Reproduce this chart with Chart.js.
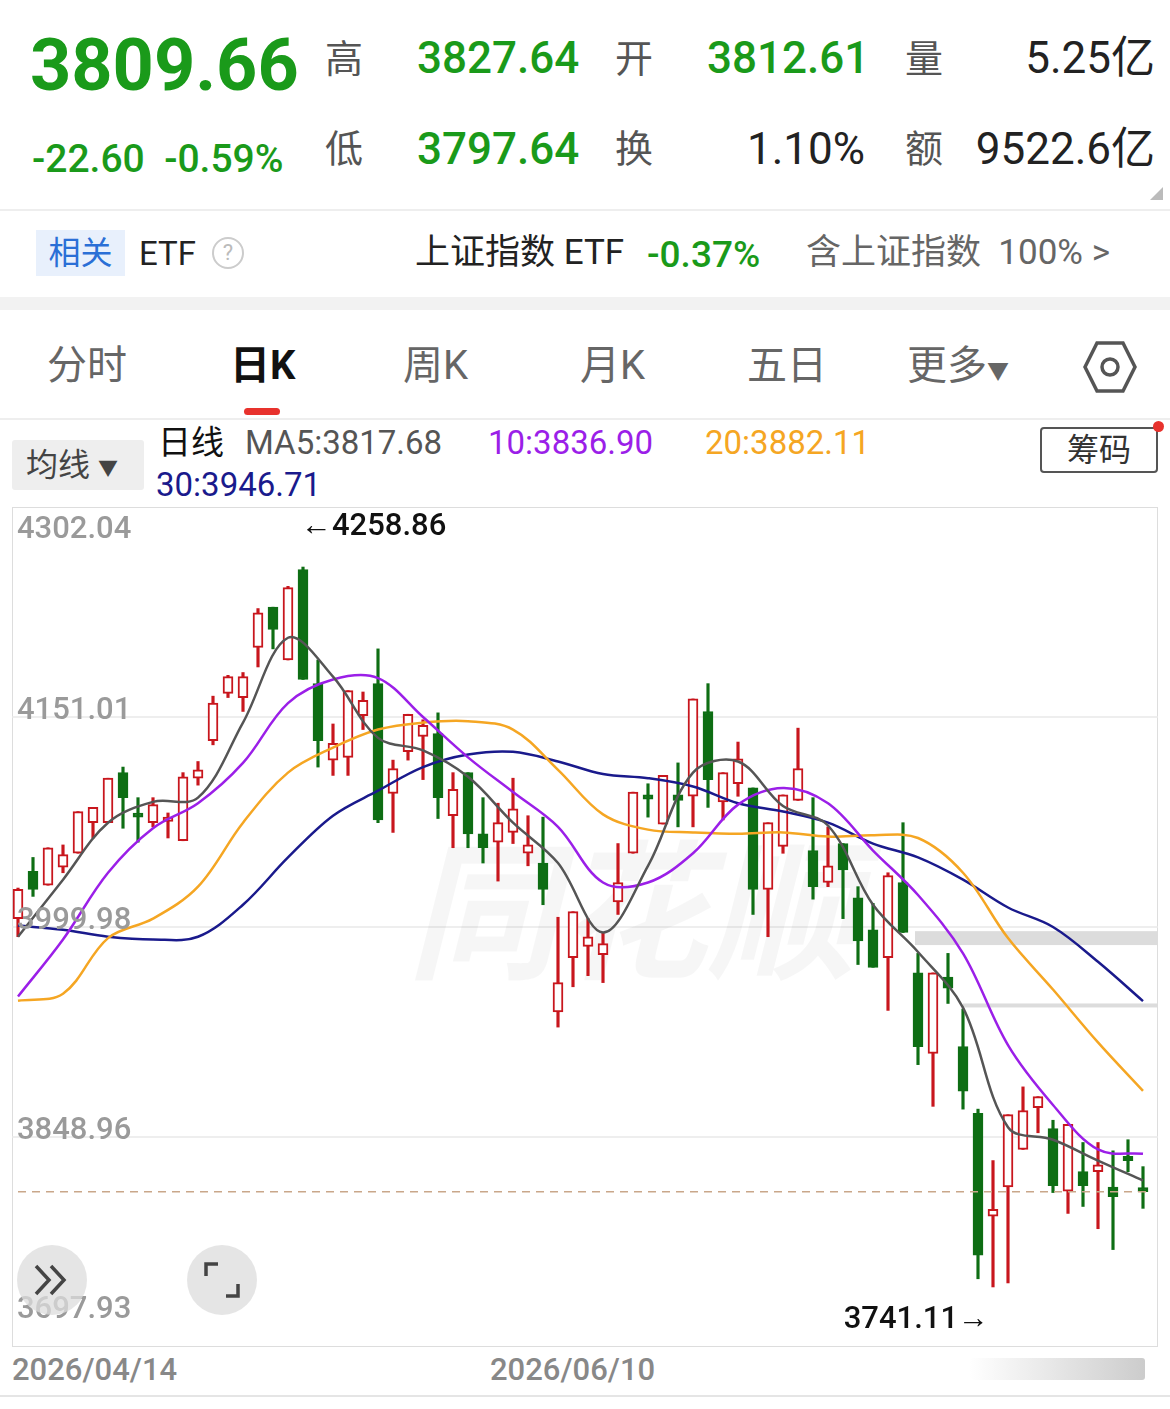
<!DOCTYPE html>
<html><head><meta charset="utf-8">
<script src="https://cdn.jsdelivr.net/npm/chart.js@4/dist/chart.umd.min.js"></script>
<style>
body{margin:0;width:1170px;height:1409px;background:#fff;font-family:Roboto,"Noto Sans CJK SC",sans-serif;position:relative;overflow:hidden}
.t{position:absolute;white-space:nowrap;line-height:1}
.g{color:#1a9a1a;font-weight:500}
.k{color:#222}
.cn{color:#555;font-size:38px}
#box{position:absolute;left:12px;top:507px;width:1146px;height:840px;border:1px solid #ddd;box-sizing:border-box}
#wrap{position:absolute;left:12px;top:507px;width:1146px;height:840px}
</style></head><body>
<div class="t g" style="left:30px;top:30px;font-size:72px;font-weight:700">3809.66</div>
<div class="t g" style="left:32px;top:140px;font-size:39px">-22.60&nbsp;&nbsp;-0.59%</div>
<div class="t cn" style="left:325px;top:40px">高</div>
<div class="t g" style="left:417px;top:36px;font-size:44px">3827.64</div>
<div class="t cn" style="left:615px;top:40px">开</div>
<div class="t g" style="left:707px;top:36px;font-size:44px">3812.61</div>
<div class="t cn" style="left:905px;top:40px">量</div>
<div class="t k" style="right:15px;top:36px;font-size:44px">5.25亿</div>
<div class="t cn" style="left:325px;top:130px">低</div>
<div class="t g" style="left:417px;top:127px;font-size:44px">3797.64</div>
<div class="t cn" style="left:615px;top:130px">换</div>
<div class="t k" style="right:305px;top:127px;font-size:44px">1.10%</div>
<div class="t cn" style="left:905px;top:130px">额</div>
<div class="t k" style="right:15px;top:127px;font-size:44px">9522.6亿</div>
<div style="position:absolute;left:1150px;top:187px;width:0;height:0;border-left:13px solid transparent;border-bottom:13px solid #bbb"></div>
<div style="position:absolute;left:0;top:209px;width:1170px;height:2px;background:#eee"></div>
<div class="t" style="left:36px;top:230px;width:89px;height:46px;background:#e8f0fc;color:#2a6fd6;font-size:32px;line-height:46px;text-align:center">相关</div>
<div class="t k" style="left:139px;top:237px;font-size:33px">ETF</div>
<div class="t" style="left:212px;top:237px;width:28px;height:28px;border:2px solid #ccc;border-radius:50%;color:#bbb;font-size:22px;text-align:center;line-height:28px">?</div>
<div class="t k" style="left:415px;top:235px;font-size:35px">上证指数 ETF</div>
<div class="t g" style="left:647px;top:236px;font-size:37px">-0.37%</div>
<div class="t" style="left:806px;top:235px;font-size:35px;color:#666">含上证指数&nbsp; 100% &gt;</div>
<div style="position:absolute;left:0;top:297px;width:1170px;height:13px;background:#f2f2f2"></div>
<div class="t" style="left:47px;top:346px;font-size:40px;color:#666">分时</div>
<div class="t" style="left:230px;top:346px;font-size:40px;color:#111;font-weight:700">日K</div>
<div style="position:absolute;left:244px;top:408px;width:36px;height:7px;border-radius:4px;background:#e8322d"></div>
<div class="t" style="left:403px;top:346px;font-size:40px;color:#666">周K</div>
<div class="t" style="left:580px;top:346px;font-size:40px;color:#666">月K</div>
<div class="t" style="left:747px;top:346px;font-size:40px;color:#666">五日</div>
<div class="t" style="left:907px;top:346px;font-size:40px;color:#666">更多<span style="font-size:22px">▼</span></div>
<svg style="position:absolute;left:1083px;top:340px" width="54" height="54"><polygon points="14,3 40,3 52,27 40,51 14,51 2,27" fill="none" stroke="#555" stroke-width="3.5"/><circle cx="27" cy="27" r="8" fill="none" stroke="#555" stroke-width="3.5"/></svg>
<div style="position:absolute;left:0;top:418px;width:1170px;height:2px;background:#eee"></div>
<div class="t" style="left:12px;top:440px;width:132px;height:50px;background:#eee;border-radius:3px;color:#444;font-size:32px;line-height:50px;padding-left:14px;box-sizing:border-box">均线 <span style="font-size:20px">▼</span></div>
<div class="t" style="left:158px;top:426px;font-size:33px;color:#111">日线</div>
<div class="t" style="left:245px;top:426px;font-size:33px;color:#555">MA5:3817.68</div>
<div class="t" style="left:488px;top:426px;font-size:33px;color:#9b1fe8">10:3836.90</div>
<div class="t" style="left:705px;top:426px;font-size:33px;color:#f5a623">20:3882.11</div>
<div class="t" style="left:156px;top:468px;font-size:33px;color:#1a1a8c">30:3946.71</div>
<div class="t" style="left:1040px;top:427px;width:118px;height:46px;border:2px solid #555;border-radius:4px;box-sizing:border-box;color:#333;font-size:32px;line-height:42px;text-align:center">筹码</div>
<div style="position:absolute;left:1153px;top:421px;width:11px;height:11px;border-radius:50%;background:#e8322d"></div>
<div id="box"></div>
<div id="wrap"><canvas id="c"></canvas></div>
<div style="position:absolute;left:17px;top:1245px;width:70px;height:70px;border-radius:50%;background:rgba(220,220,220,.75)"></div>
<svg style="position:absolute;left:32px;top:1262px" width="40" height="36"><path d="M4 4 L17 18 L4 32 M19 4 L32 18 L19 32" fill="none" stroke="#444" stroke-width="3.5"/></svg>
<div style="position:absolute;left:187px;top:1245px;width:70px;height:70px;border-radius:50%;background:rgba(220,220,220,.75)"></div>
<svg style="position:absolute;left:202px;top:1260px" width="40" height="40"><path d="M4 16 V4 H16 M36 24 V36 H24" fill="none" stroke="#444" stroke-width="3.5"/></svg>
<div class="t" style="left:12px;top:1354px;font-size:31px;color:#888;font-weight:500">2026/04/14</div>
<div class="t" style="left:490px;top:1354px;font-size:31px;color:#888;font-weight:500">2026/06/10</div>
<div style="position:absolute;left:970px;top:1358px;width:175px;height:22px;background:linear-gradient(to right,#fff,#ccc);border-radius:3px"></div>
<div style="position:absolute;left:0;top:1395px;width:1170px;height:2px;background:#e5e5e5"></div>
<script>
// candle data (price units)
const opens  = [4006,4040,4030,4043,4053,4075,4075,4111,4082,4075,4076,4062,4107,4134,4168,4165,4201,4230,4192,4257,
  4175,4120,4122,4152,4175,4096,4126,4137,4139,4080,4111,4067,4061,4068,4053,4046,3939,3978,3986,3980,
  4018,4053,4095,4074,4095,4094,4155,4090,4103,4100,4027,4058,4091,4055,4032,4060,4021,3998,3978,4032,
  3967,3909,3964,3914,3866,3792,3813,3840,3870,3855,3810,3824,3824,3813,3835,3812.61];
const highs  = [4028,4050,4057,4059,4083,4086,4107,4115,4093,4093,4082,4111,4119,4166,4181,4183,4229,4230,4245,4258.86,
  4192,4146,4170,4169,4200,4120,4153,4149,4154,4111,4111,4093,4089,4107,4080,4079,4007,4011,4006,3996,
  4060,4097,4103,4109,4118,4164,4175,4111,4133,4100,4075,4095,4143,4093,4072,4060,4029,4017,4039,4075,
  3981,3967,3981,3941,3869,3832,3865,3885,3878,3861,3858,3845,3845,3839,3847,3827.64];
const lows   = [3993,4022,4030,4039,4053,4064,4075,4071,4061,4072,4064,4062,4102,4131,4165,4155,4187,4200,4192,4178,
  4115,4109,4109,4142,4075,4068,4120,4106,4078,4057,4057,4046,4033,4060,4044,4016,3928,3957,3965,3960,
  4009,4053,4079,4074,4072,4072,4086,4077,4094,4009,3993,4053,4091,4020,4029,4006,3973,3971,3940,3996,
  3901,3871,3945,3869,3747,3741.11,3744,3840,3852,3809,3794,3799,3783,3768,3824,3797.64];
const closes = [4027,4027,4057,4052,4083,4086,4107,4093,4079,4088,4079,4108,4113,4161,4180,4180,4226,4214,4244,4178,
  4134,4132,4170,4163,4077,4114,4153,4145,4093,4099,4067,4057,4075,4085,4059,4027,3960,4011,3993,3988,
  4032,4097,4092,4109,4091,4164,4106,4111,4121,4027,4075,4095,4114,4029,4044,4041,3990,3971,4037,3996,
  3914,3967,3956,3882,3764,3797,3865,3868,3878,3814,3858,3814,3829,3806,3832,3809.66];
// moving averages sampled every 3rd candle (index 0,3,...,75)
const maIdx = [0,3,6,9,12,15,18,21,24,27,30,33,36,39,42,45,48,51,54,57,60,63,66,69,72,75];
const ma5Pts  = [3993,4034,4075,4090,4093,4147,4208,4180,4136,4127,4108,4075,4046,3996,4044,4111,4119,4087,4073,4016,3982,3942,3856,3847,3832,3817.68];
const ma10Pts = [3950,3991,4039,4071,4089,4118,4161,4178,4179,4151,4122,4097,4072,4032,4032,4053,4088,4100,4089,4055,4023,3981,3915,3872,3840,3836.90];
const ma20Pts = [3947,3952,3992,4006,4029,4075,4111,4129,4142,4147,4148,4142,4113,4081,4070,4068,4067,4068,4065,4066,4064,4039,3992,3955,3917,3882.11];
const ma30Pts = [4001,3998,3993,3991,3993,4016,4050,4080,4098,4115,4124,4126,4119,4110,4107,4101,4089,4083,4075,4060,4050,4034,4014,4000,3975,3946.71];
const tickVals = [3697.93,3848.96,3999.98,4151.01,4302.04];
const lastPrice = 3809.66;

const RED = '#c8161d', GREEN = '#0e6e14';
const labels = closes.map((_, i) => i);
const up = closes.map((c, i) => c >= opens[i]);
function spread(pts) {
  const a = Array(closes.length).fill(null);
  maIdx.forEach((k, j) => a[k] = pts[j]);
  return a;
}
function maSet(pts, color) {
  return {type: 'line', data: spread(pts), borderColor: color, borderWidth: 2.5, pointRadius: 0,
    spanGaps: true, tension: 0.35, order: 0};
}

const deco = {
  id: 'deco',
  beforeDatasetsDraw(chart) {
    const {ctx, width, scales: {x, y}} = chart;
    ctx.save();
    // grid lines across the whole box
    ctx.strokeStyle = '#e8e8e8'; ctx.lineWidth = 1.5;
    tickVals.slice(1, 4).forEach(v => {
      const p = y.getPixelForValue(v);
      ctx.beginPath(); ctx.moveTo(0, p); ctx.lineTo(width, p); ctx.stroke();
    });
    // watermark
    ctx.fillStyle = 'rgba(0,0,0,0.035)';
    ctx.font = 'italic bold 150px "Noto Sans CJK SC"';
    ctx.fillText('同花顺', 395, 460);
    // chip bands
    ctx.fillStyle = '#dcdcdc';
    ctx.fillRect(x.getPixelForValue(60) - 3, y.getPixelForValue(3997), width, y.getPixelForValue(3987) - y.getPixelForValue(3997));
    ctx.fillRect(x.getPixelForValue(63), y.getPixelForValue(3945), width, 4);
    ctx.restore();
  },
  afterDatasetsDraw(chart) {
    const {ctx, scales: {x, y}} = chart;
    ctx.save();
    // last price dashed line
    ctx.strokeStyle = '#c9a78a'; ctx.lineWidth = 1.5; ctx.setLineDash([8, 6]);
    const py = y.getPixelForValue(lastPrice);
    ctx.beginPath(); ctx.moveTo(6, py); ctx.lineTo(x.getPixelForValue(75) + 6, py); ctx.stroke();
    ctx.setLineDash([]);
    // y labels
    ctx.fillStyle = '#9a9a9a'; ctx.font = '500 31px Roboto';
    tickVals.forEach((v, i) => {
      const p = y.getPixelForValue(v);
      const off = i === 4 ? 23 : (i === 0 ? -37 : -6);
      ctx.textBaseline = 'middle'; ctx.fillText(v.toFixed(2), 5, p + off);
    });
    // high / low markers
    ctx.fillStyle = '#111'; ctx.font = '500 31px Roboto';
    ctx.textBaseline = 'middle';
    const hi = highs.indexOf(Math.max(...highs)), lo = lows.indexOf(Math.min(...lows));
    ctx.fillText('\u2190' + Math.max(...highs).toFixed(2), x.getPixelForValue(hi) - 2, 20);
    ctx.textAlign = 'right';
    ctx.fillText(Math.min(...lows).toFixed(2) + '\u2192', x.getPixelForValue(lo) - 4, 813);
    ctx.restore();
  }
};

new Chart(document.getElementById('c'), {
  data: {
    labels,
    datasets: [
      maSet(ma5Pts, '#555555'), maSet(ma10Pts, '#9b1fe8'), maSet(ma20Pts, '#f5a623'), maSet(ma30Pts, '#1a1a8c'),
      {type: 'bar', data: closes.map((c, i) => [opens[i], c]), grouped: false, barThickness: 10, minBarLength: 3,
        backgroundColor: up.map(u => u ? '#fff' : GREEN), borderColor: up.map(u => u ? RED : GREEN),
        borderWidth: 2, borderSkipped: false, order: 1, clip: false},
      {type: 'bar', data: lows.map((l, i) => [l, highs[i]]), grouped: false, barThickness: 2.5,
        backgroundColor: up.map(u => u ? RED : GREEN), order: 2, clip: false}
    ]
  },
  options: {
    responsive: true, maintainAspectRatio: false, animation: false,
    layout: {padding: {left: 6, right: 15, top: 0, bottom: 0}},
    plugins: {legend: {display: false}, tooltip: {enabled: false}},
    scales: {
      x: {display: false, offset: false},
      y: {display: false, min: 3697.93, max: 4302.04}
    }
  },
  plugins: [deco]
});
</script>
</body></html>
